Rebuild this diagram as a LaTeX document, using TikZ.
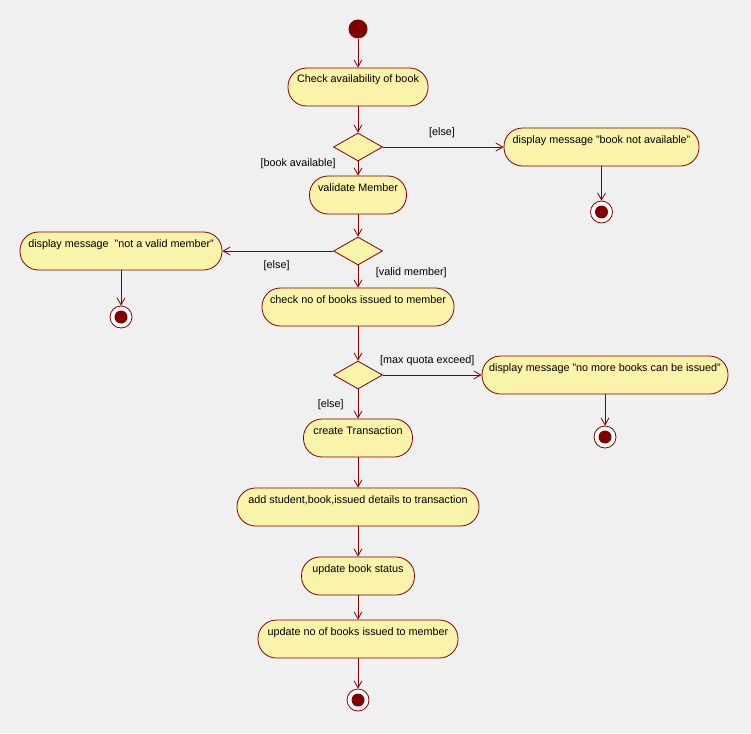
\documentclass[tikz,border=0pt]{standalone}
\usepackage{fontspec}
\setmainfont{Liberation Sans}
\usetikzlibrary{shapes.geometric,arrows.meta}
\definecolor{umlred}{RGB}{128,0,0}
\definecolor{umlfill}{RGB}{250,243,170}
\definecolor{umlback}{RGB}{240,240,240}
\begin{document}
\begin{tikzpicture}[x=1pt,y=-1pt,
    font=\fontsize{10.8}{13}\selectfont,
    line width=0.8pt,
    action/.style={draw=umlred,fill=umlfill,rounded corners=18.5pt,
      minimum height=38pt,inner xsep=0pt,inner ysep=4pt,
      text height=11pt,text depth=19pt},
    decision/.style={diamond,draw=umlred,fill=umlfill,
      minimum width=49pt,minimum height=28pt,inner sep=0pt},
    initial/.style={circle,fill=umlred,minimum size=19pt,inner sep=0pt},
    final/.style={circle,draw=umlred,fill=white,minimum size=22pt,inner sep=0pt,
      path picture={\fill[umlred] (path picture bounding box.center) circle (6.5pt);}},
    guard/.style={inner sep=3pt}]
      \fill[umlback] (0,0) rectangle (751,733);
      \useasboundingbox (0,0) rectangle (751,733);
      \draw
        (358,29) node[initial] (0){}
        (358,87) node[action,minimum width=140pt] (1){Check availability of book}
        (358,147) node[decision] (2){}
        (601.5,147) node[action,minimum width=195pt] (3){display message "book not available"}
        (601.5,212) node[final] (4){}
        (358,195) node[action,minimum width=97pt] (5){validate Member}
        (358,251) node[decision] (6){}
        (121,251) node[action,minimum width=202pt] (7){display message\ \ "not a valid member"}
        (121,317) node[final] (8){}
        (358,307) node[action,minimum width=192pt] (9){check no of books issued to member}
        (358,375) node[decision] (10){}
        (605,375) node[action,minimum width=246pt] (11){display message "no more books can be issued"}
        (605,437) node[final] (12){}
        (358,438) node[action,minimum width=109pt] (13){create Transaction}
        (358,507) node[action,minimum width=242pt] (14){add student,book,issued details to transaction}
        (358,576) node[action,minimum width=113pt] (15){update book status}
        (358,639) node[action,minimum width=200pt] (16){update no of books issued to member}
        (358,700) node[final] (17){};
      \begin{scope}[-{Straight Barb[length=7pt,width=8pt]},umlred]
        \draw (0) to (1);
        \draw (1) to (2);
        \draw (2) to node[guard,above=5.5pt,pos=0.49,black]{[else]} (3);
        \draw (3) to (4);
        \draw (2) to node[guard,left=19pt,pos=0.13,black]{[book available]} (5);
        \draw (5) to (6);
        \draw (6) to node[guard,below=6.5pt,pos=0.51,black]{[else]} (7);
        \draw (7) to (8);
        \draw (6) to node[guard,right=14.5pt,pos=0.33,black]{[valid member]} (9);
        \draw (9) to (10);
        \draw (10) to node[guard,above=6pt,pos=0.45,black]{[max quota exceed]} (11);
        \draw (11) to (12);
        \draw (10) to node[guard,left=11pt,pos=0.53,black]{[else]} (13);
        \draw (13) to (14);
        \draw (14) to (15);
        \draw (15) to (16);
        \draw (16) to (17);
      \end{scope}
    \end{tikzpicture}
\end{document}
